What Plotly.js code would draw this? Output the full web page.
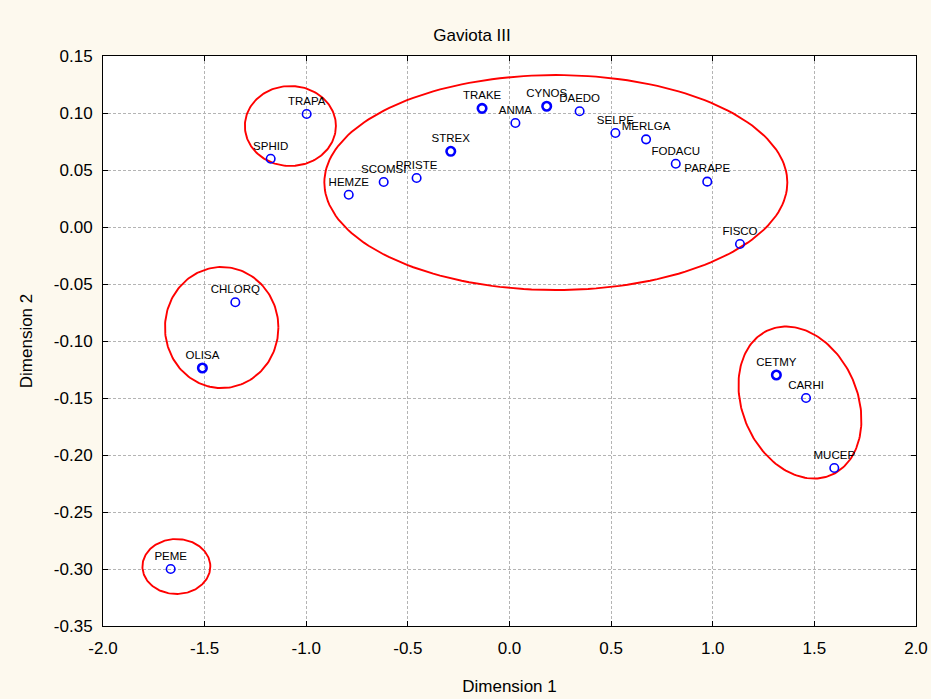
<!DOCTYPE html>
<html>
<head>
<meta charset="utf-8">
<script src="https://cdn.plot.ly/plotly-3.0.1.min.js"></script>
<style>html,body{margin:0;padding:0;background:#fff;}#chart{width:931px;height:699px;}</style>
</head>
<body>
<div id="chart"></div>
<script>
// ---- data ----
var species = ["TRAPA","SPHID","HEMZE","SCOMSI","PRISTE","STREX","TRAKE","ANMA","CYNOS","DAEDO","SELPE","MERLGA","FODACU","PARAPE","FISCO","CHLORQ","OLISA","CETMY","CARHI","MUCEP","PEME"];
var dim1 = [-0.998,-1.175,-0.791,-0.619,-0.457,-0.289,-0.135,0.029,0.183,0.345,0.521,0.672,0.818,0.973,1.134,-1.349,-1.511,1.313,1.459,1.598,-1.667];
var dim2 = [0.0991,0.0599,0.0283,0.0395,0.0430,0.0664,0.1041,0.0912,0.1059,0.1015,0.0825,0.0769,0.0555,0.0398,-0.0149,-0.0660,-0.1237,-0.1298,-0.1500,-0.2114,-0.3000];
var overlapped = ["TRAKE","CYNOS","STREX","OLISA","CETMY"];

// grouping ellipses (centre, semi-axes in data units, screen rotation in degrees)
var ellCx = [-1.078, 0.228, -1.416, 1.429, -1.639];
var ellCy = [0.0886, 0.0390, -0.0882, -0.1540, -0.2978];
var ellRx = [0.224, 1.139, 0.279, 0.2834, 0.167];
var ellRy = [0.0351, 0.0943, 0.0531, 0.0693, 0.0241];
var ellAngle = [0, 0, 0, 23.4, 0];

var xTicks = [-2.0,-1.5,-1.0,-0.5,0.0,0.5,1.0,1.5,2.0];
var yTicks = [0.15,0.10,0.05,0.00,-0.05,-0.10,-0.15,-0.20,-0.25,-0.30,-0.35];

// ---- layout geometry ----
var W = 931, H = 699;
var M = {l:103, r:15, t:56, b:73};
var xRange = [-2, 2], yRange = [-0.35, 0.15];
var sx = (W - M.l - M.r) / (xRange[1] - xRange[0]);
var sy = (H - M.t - M.b) / (yRange[1] - yRange[0]);

function ellipse(i) {
  var xs = [], ys = [], th = ellAngle[i] * Math.PI / 180;
  var a = ellRx[i] * sx, b = ellRy[i] * sy;
  for (var k = 0; k <= 180; k++) {
    var t = 2 * Math.PI * k / 180;
    var u = a * Math.cos(t), v = b * Math.sin(t);
    var X = u * Math.cos(th) + v * Math.sin(th);
    var Y = -u * Math.sin(th) + v * Math.cos(th);
    xs.push(ellCx[i] + X / sx);
    ys.push(ellCy[i] - Y / sy);
  }
  return {x: xs, y: ys, type: 'scatter', mode: 'lines', hoverinfo: 'skip',
          line: {color: '#ff0000', width: 1.9}, showlegend: false};
}

var traces = [];
for (var i = 0; i < ellCx.length; i++) traces.push(ellipse(i));
traces.push({
  x: dim1, y: dim2, text: species, type: 'scatter', mode: 'markers+text',
  textposition: 'top center',
  textfont: {family: 'Liberation Sans, Arial, sans-serif', size: 11.5, color: '#000'},
  marker: {symbol: 'circle-open', size: 8.5, color: '#0000ff',
           line: {color: '#0000ff', width: species.map(function(s){return overlapped.indexOf(s) >= 0 ? 2.6 : 1.6;})}},
  showlegend: false, cliponaxis: false
});

var font = 'Liberation Sans, Arial, sans-serif';
var layout = {
  width: W, height: H,
  margin: M,
  paper_bgcolor: '#fdf9ee',
  plot_bgcolor: '#ffffff',
  font: {family: font, size: 17, color: '#000'},
  title: {text: 'Gaviota III', x: 0.507, xanchor: 'center', y: 0.95, yanchor: 'middle',
          font: {family: font, size: 17, color: '#000'}},
  xaxis: {range: xRange, tickvals: xTicks, ticktext: xTicks.map(function(v){return v.toFixed(1);}),
          showgrid: true, gridcolor: '#b4b4b4', griddash: '3px,2px', gridwidth: 1,
          zeroline: false, showline: true, linecolor: '#000', linewidth: 1, mirror: 'ticks',
          ticks: 'inside', ticklen: 5, tickcolor: '#000', ticklabelstandoff: 7,
          tickfont: {family: font, size: 17, color: '#000'},
          title: {text: 'Dimension 1', font: {family: font, size: 17, color: '#000'}, standoff: 22}},
  yaxis: {range: yRange, tickvals: yTicks, ticktext: yTicks.map(function(v){return v.toFixed(2);}),
          showgrid: true, gridcolor: '#b4b4b4', griddash: '3px,2px', gridwidth: 1,
          zeroline: false, showline: true, linecolor: '#000', linewidth: 1, mirror: 'ticks',
          ticks: 'inside', ticklen: 5, tickcolor: '#000', ticklabelstandoff: 6,
          tickfont: {family: font, size: 17, color: '#000'},
          title: {text: 'Dimension 2', font: {family: font, size: 17, color: '#000'}, standoff: 16}}
};

Plotly.newPlot('chart', traces, layout, {displayModeBar: false, staticPlot: true});
</script>
</body>
</html>
